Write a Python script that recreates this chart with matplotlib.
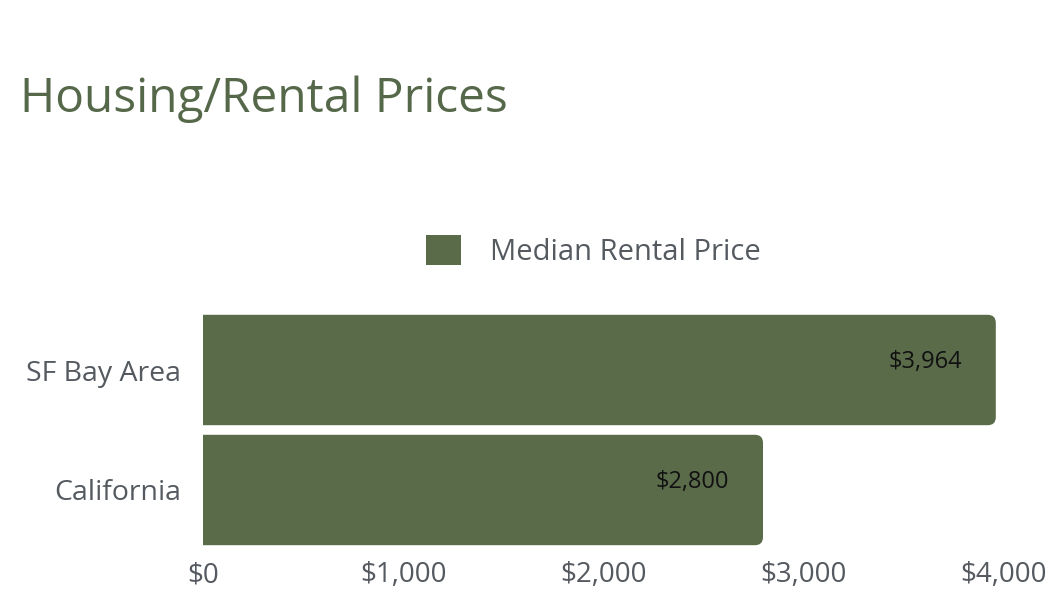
import matplotlib.pyplot as plt
from matplotlib.patches import PathPatch, Patch
from matplotlib.path import Path

# ─── DATA ────────────────────────────────────────────────────────────────
CATEGORIAS = ["SF Bay Area", "California"]
PRECIOS = [3964, 2800]
TICKS_X = [0, 1000, 2000, 3000, 4000]
SERIE = "Median Rental Price"

VERDE = "#5a6b4a"
GRIS = "#555a60"

plt.rcParams["font.family"] = ["Open Sans", "DejaVu Sans"]

fig = plt.figure(figsize=(10.53, 6.0), dpi=100)
ax = fig.add_axes([203 / 1053, 50 / 600, 800 / 1053, 240 / 600])


def barra_redondeada(ax, y, ancho, alto, rx=40, ry=0.067, color=VERDE):
    """Barra horizontal con las esquinas derechas redondeadas (un solo path)."""
    y0, y1 = y - alto / 2, y + alto / 2
    verts = [(0, y0), (ancho - rx, y0), (ancho, y0), (ancho, y0 + ry),
             (ancho, y1 - ry), (ancho, y1), (ancho - rx, y1), (0, y1), (0, y0)]
    codes = [Path.MOVETO, Path.LINETO, Path.CURVE3, Path.CURVE3,
             Path.LINETO, Path.CURVE3, Path.CURVE3, Path.LINETO, Path.CLOSEPOLY]
    ax.add_patch(PathPatch(Path(verts, codes), facecolor=color,
                           edgecolor="none", linewidth=0, zorder=2))


alto = 0.92
for i, val in enumerate(PRECIOS):
    barra_redondeada(ax, i, val, alto)
    ax.text(val - 170, i - 0.07, f"${val:,}", ha="right", va="center",
            fontsize=17, color="#111111", zorder=3)

ax.set_xlim(0, 4000)
ax.set_ylim(len(CATEGORIAS) - 0.5, -0.5)
ax.set_yticks(range(len(CATEGORIAS)))
ax.set_yticklabels(CATEGORIAS, fontsize=20.5, color=GRIS)
ax.set_xticks(TICKS_X)
ax.set_xticklabels([f"${t:,}" for t in TICKS_X], fontsize=20, color=GRIS)
ax.tick_params(axis="both", length=0)
ax.tick_params(axis="y", pad=16)
ax.tick_params(axis="x", pad=8)
for s in ax.spines.values():
    s.set_visible(False)

fig.text(20 / 1053, 1 - 99 / 600, "Housing/Rental Prices", fontsize=34.5,
         color="#56684a", ha="left", va="center")

leg = fig.legend(handles=[Patch(facecolor=VERDE, edgecolor="none", label=SERIE)],
                 loc="center", bbox_to_anchor=(593 / 1053, 1 - 251 / 600),
                 frameon=False, fontsize=21, handlelength=1.2, handleheight=1.2,
                 handletextpad=1.0, labelcolor=GRIS)

fig.savefig("out.png", dpi=100, facecolor="white")
